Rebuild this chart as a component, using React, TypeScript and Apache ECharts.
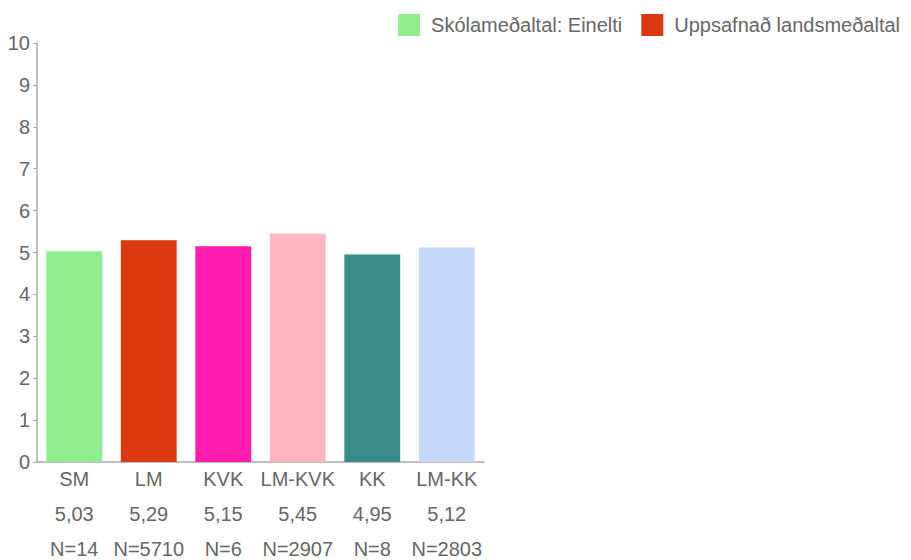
import React, { useEffect, useRef } from "react";
import * as echarts from "echarts";

const categories = ["SM", "LM", "KVK", "LM-KVK", "KK", "LM-KK"];
const values = [5.03, 5.29, 5.15, 5.45, 4.95, 5.12];
const counts = [14, 5710, 6, 2907, 8, 2803];
const barColors = ["#90ee90", "#dc3912", "#ff1cae", "#ffb6c1", "#388c8c", "#c6d9fa"];
const legendNames = ["Skólameðaltal: Einelti", "Uppsafnað landsmeðaltal"];
const legendColors = ["#90ee90", "#dc3912"];

export default function App() {
  const ref = useRef<HTMLDivElement>(null);
  useEffect(() => {
    if (!ref.current) return;
    const chart = echarts.init(ref.current, undefined, { renderer: "svg" });
    const font = "'Liberation Sans', Arial, Helvetica, sans-serif";
    chart.setOption({
      animation: false,
      textStyle: { fontFamily: font },
      grid: {
        left: 37,
        right: 427,
        top: 43,
        bottom: 98,
        containLabel: false,
        outerBoundsMode: "none",
      },
      legend: {
        right: 6,
        top: 9,
        itemWidth: 22,
        itemHeight: 22,
        itemGap: 19,
        icon: "rect",
        data: legendNames,
        textStyle: { color: "#666", fontSize: 20, fontFamily: font, padding: [0, 0, 0, 6] },
      },
      xAxis: {
        type: "category",
        data: categories,
        axisLine: { lineStyle: { color: "#aaa", width: 1.5 } },
        axisTick: { alignWithLabel: true, length: 5, lineStyle: { color: "#aaa" } },
        axisLabel: {
          color: "#666",
          fontSize: 20,
          fontFamily: font,
          lineHeight: 35,
          margin: -1,
          interval: 0,
          formatter: (v: string, i: number) =>
            `${v}\n${values[i].toFixed(2).replace(".", ",")}\nN=${counts[i]}`,
        },
      },
      yAxis: {
        type: "value",
        min: 0,
        max: 10,
        interval: 1,
        splitLine: { show: false },
        axisLine: { show: true, lineStyle: { color: "#aaa", width: 1.5 } },
        axisTick: { show: true, length: 4, lineStyle: { color: "#aaa" } },
        axisLabel: { color: "#666", fontSize: 20, fontFamily: font, margin: 7 },
      },
      series: [
        {
          name: "data",
          type: "bar",
          stack: "all",
          barCategoryGap: "25%",
          data: values.map((v, i) => ({ value: v, itemStyle: { color: barColors[i] } })),
        },
        { name: legendNames[0], type: "bar", stack: "all", data: [], itemStyle: { color: legendColors[0] } },
        { name: legendNames[1], type: "bar", stack: "all", data: [], itemStyle: { color: legendColors[1] } },
      ],
    });
    return () => chart.dispose();
  }, []);
  return (
    <div
      ref={ref}
      style={{ position: "absolute", left: 0, top: 0, width: 911, height: 560 }}
    />
  );
}
